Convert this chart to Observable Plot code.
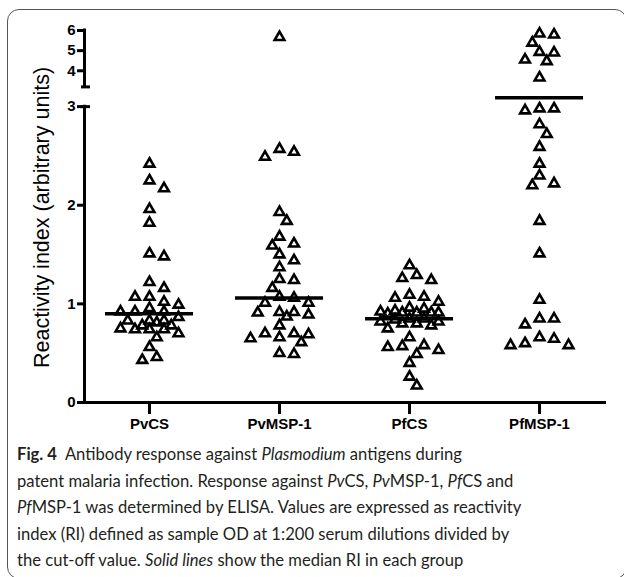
<!DOCTYPE html>
<html>
<head>
<meta charset="utf-8">
<script src="https://cdn.jsdelivr.net/npm/d3@7"></script>
<script src="https://cdn.jsdelivr.net/npm/@observablehq/plot@0.6"></script>
<style>
  html, body { margin: 0; padding: 0; background: #fff; width: 624px; height: 577px; overflow: hidden; }
  #box { position: absolute; left: 7px; top: 9px; width: 620px; height: 570px; border: 1.5px solid #555; border-radius: 12px; box-sizing: border-box; }
  #chart { position: absolute; left: 0; top: 0; }
  #cap { position: absolute; left: 17px; top: 441px; font-family: Lato, "Open Sans", sans-serif; font-size: 16.6px; line-height: 26.5px; color: #231f20; white-space: nowrap; }
  #cap b { font-weight: 700; }
</style>
</head>
<body>
<div id="box"></div>
<div id="chart"></div>
<div id="cap">
  <div><b>Fig. 4</b>&nbsp; Antibody response against <i>Plasmodium</i> antigens during</div>
  <div>patent malaria infection. Response against <i>Pv</i>CS, <i>Pv</i>MSP-1, <i>Pf</i>CS and</div>
  <div><i>Pf</i>MSP-1 was determined by ELISA. Values are expressed as reactivity</div>
  <div>index (RI) defined as sample OD at 1:200 serum dilutions divided by</div>
  <div>the cut-off value. <i>Solid lines</i> show the median RI in each group</div>
</div>
<script>
// ---- data ----
const groups = ["PvCS", "PvMSP-1", "PfCS", "PfMSP-1"];
const pvCS = [2.42, 2.25, 2.17, 1.96, 1.82, 1.51, 1.48, 1.22, 1.16, 1.07, 1.07, 1.02, 0.99, 0.955, 0.92, 0.92, 0.92,
  0.865, 0.83, 0.83, 0.83, 0.81, 0.78, 0.78, 0.75, 0.74, 0.74, 0.74, 0.70, 0.66, 0.56, 0.46, 0.43];
const pvMSP1 = [5.67, 2.57, 2.54, 2.49, 1.93, 1.84, 1.68, 1.61, 1.59, 1.50, 1.44, 1.37, 1.25, 1.24, 1.16, 1.07, 1.06,
  1.01, 1.01, 0.915, 0.915, 0.91, 0.89, 0.87, 0.78, 0.70, 0.70, 0.69, 0.66, 0.65, 0.61, 0.50, 0.49];
const pfCS = [1.39, 1.29, 1.26, 1.24, 1.09, 1.07, 1.06, 1.02, 0.96, 0.95, 0.93, 0.92, 0.91, 0.91, 0.91, 0.91, 0.90,
  0.85, 0.85, 0.84, 0.82, 0.82, 0.80, 0.80, 0.78, 0.75, 0.66, 0.58, 0.57, 0.56, 0.53, 0.49, 0.40, 0.26, 0.17];
const pfMSP1 = [5.84, 5.79, 5.39, 4.93, 4.90, 4.55, 4.47, 3.66, 2.98, 2.98, 2.96, 2.82, 2.72, 2.59, 2.42, 2.30, 2.22,
  2.20, 1.84, 1.51, 1.04, 0.85, 0.85, 0.79, 0.66, 0.645, 0.60, 0.58, 0.58];
const medians = [0.90, 1.06, 0.85, 3.09];
const yTicks = [0, 1, 2, 3, 4, 5, 6];
const yLabel = "Reactivity index (arbitrary units)";

// ---- scale configuration (broken axis: 0–3 and 3.2–6) ----
const W = 624, H = 440, mL = 84, mR = 18, mT = 30, mB = 38;
const xDomain = [-0.5, 3.515];
const yDomain = [0, 3.2, 6];
const yRange = [H - mB, 86.4, mT];
const axisSegments = [{from: 0, to: 3}, {from: 3.2, to: 6}];
const pxPerUnit = (W - mL - mR) / (xDomain[1] - xDomain[0]);

// ---- column-scatter spreading (layout) ----
const yPix = d3.scaleLinear().domain(yDomain).range(yRange);
const D = 11, half = 7.25, maxK = 8;
const series = [pvCS, pvMSP1, pfCS, pfMSP1];
const points = [];
series.forEach((vals, gi) => {
  const placed = [];
  [...vals].sort((a, b) => b - a).forEach(v => {
    const py = yPix(v);
    let best = 0, bestGap = -Infinity;
    for (let k = 0; k <= maxK; k++) {
      const cand = (k % 2 ? 1 : -1) * Math.ceil(k / 2) * half;
      const gap = placed.length ? Math.min(...placed.map(p => Math.hypot(p.x - cand, p.y - py))) : Infinity;
      if (gap >= D) { best = cand; bestGap = gap; break; }
      if (gap > bestGap + 0.5) { best = cand; bestGap = gap; }
    }
    placed.push({x: best, y: py});
    points.push({group: groups[gi], value: v, x: gi + best / pxPerUnit});
  });
});
const medianRows = medians.map((m, i) => ({gi: i, value: m}));
const halfLine = 44 / pxPerUnit;

const chart = Plot.plot({
  width: W, height: H,
  marginLeft: mL, marginRight: mR, marginTop: mT, marginBottom: mB,
  style: {fontFamily: "'Liberation Sans', Arial, sans-serif", background: "transparent", color: "#000", overflow: "visible"},
  x: {type: "linear", domain: xDomain, axis: null},
  y: {type: "linear", domain: yDomain, range: yRange, axis: null},
  marks: [
    Plot.ruleX(axisSegments, {x: xDomain[0], y1: "from", y2: "to", strokeWidth: 3, strokeLinecap: "square"}),
    Plot.ruleY([0], {x1: xDomain[0], x2: xDomain[1], strokeWidth: 3}),
    Plot.ruleY([3, 3.2], {x1: xDomain[0] - 3 / pxPerUnit, x2: xDomain[0] + 6 / pxPerUnit, strokeWidth: 3}),
    Plot.axisY({ticks: yTicks, tickFormat: d => String(d), tickSize: 7, strokeWidth: 3, fontSize: 15, fontWeight: "bold", tickPadding: 2, label: null, anchor: "left"}),
    Plot.axisX({ticks: [0, 1, 2, 3], tickFormat: i => groups[i], tickSize: 12, strokeWidth: 3, fontSize: 15, fontWeight: "bold", tickPadding: 4, label: null, anchor: "bottom"}),
    Plot.text([yLabel], {frameAnchor: "left", dx: -42, dy: 1, rotate: -90, textAnchor: "middle", lineAnchor: "middle", fontSize: 21.5, fill: "#000"}),
    Plot.ruleY(medianRows, {y: "value", x1: d => d.gi - halfLine, x2: d => d.gi + halfLine, strokeWidth: 3.5}),
    Plot.dot(points, {x: "x", y: "value", symbol: "triangle", r: 3.6, stroke: "#000", strokeWidth: 2.6, fill: "none"})
  ]
});
document.getElementById("chart").appendChild(chart);
</script>
</body>
</html>
